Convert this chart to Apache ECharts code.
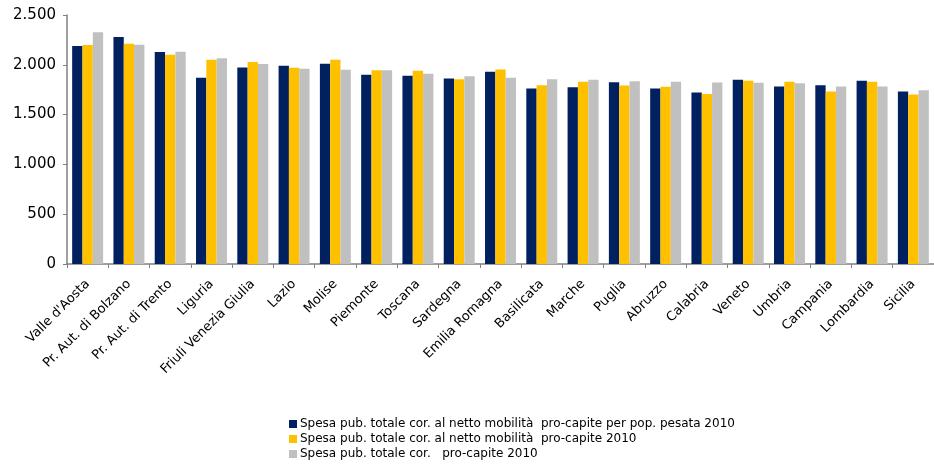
<!DOCTYPE html>
<html><head><meta charset="utf-8">
<script src="https://cdn.jsdelivr.net/npm/echarts@6/dist/echarts.min.js"></script>
<style>html,body{margin:0;padding:0;background:#fff}#c{width:934px;height:466px}</style>
</head><body><div id="c"></div>
<script>
const categories = ["Valle d'Aosta","Pr. Aut. di Bolzano","Pr. Aut. di Trento","Liguria","Friuli Venezia Giulia","Lazio","Molise","Piemonte","Toscana","Sardegna","Emilia Romagna","Basilicata","Marche","Puglia","Abruzzo","Calabria","Veneto","Umbria","Campania","Lombardia","Sicilia"];
const seriesNames = [
  "Spesa pub. totale cor. al netto mobilità  pro-capite per pop. pesata 2010",
  "Spesa pub. totale cor. al netto mobilità  pro-capite 2010",
  "Spesa pub. totale cor.   pro-capite 2010"
];
const pesata = [2188,2279,2128,1869,1973,1990,2010,1900,1889,1863,1930,1762,1775,1826,1762,1722,1849,1782,1795,1839,1732];
const nettoMob = [2198,2212,2101,2051,2027,1970,2051,1946,1940,1856,1953,1795,1829,1792,1779,1708,1839,1829,1732,1829,1701];
const totale = [2326,2201,2131,2067,2007,1960,1950,1946,1910,1886,1869,1856,1849,1836,1829,1822,1819,1816,1782,1782,1745];
const yTicks = [0,500,1000,1500,2000,2500];
const colors = ["#002060","#FFC000","#C0C0C0"];

const chart = echarts.init(document.getElementById('c'), null, {renderer:'canvas'});
const font = 'DejaVu Sans';
const mk = (name, data, color) => ({
  name, type:'bar', data, barGap:'0%', barCategoryGap:'25%',
  itemStyle:{color},
  animation:false
});
chart.setOption({
  animation:false,
  color: colors,
  grid:{left:67, right:0, top:15, bottom:202, containLabel:false},
  xAxis:{
    type:'category', data:categories,
    axisLine:{lineStyle:{color:'#808080', width:1.5}},
    axisTick:{show:true, interval:0, length:4, lineStyle:{color:'#808080'}},
    axisLabel:{interval:0, rotate:45, fontFamily:font, fontSize:13, color:'#000', margin:18}
  },
  yAxis:{
    type:'value', min:yTicks[0], max:yTicks[yTicks.length-1], interval:500,
    axisLine:{show:true, lineStyle:{color:'#808080', width:1.5}},
    axisTick:{show:true, length:4, lineStyle:{color:'#808080'}},
    splitLine:{show:false},
    axisLabel:{fontFamily:font, fontSize:15, color:'#000', margin:11,
      formatter: v => v.toString().replace(/\B(?=(\d{3})+(?!\d))/g, '.')}
  },
  legend:{
    orient:'vertical', left:289, top:417, height:49, padding:0, itemWidth:8, itemHeight:8, itemGap:1,
    icon:'rect',
    textStyle:{fontFamily:font, fontSize:12, lineHeight:14, color:'#000', padding:[0,0,0,-2]},
    data: seriesNames
  },
  series:[mk(seriesNames[0], pesata, colors[0]), mk(seriesNames[1], nettoMob, colors[1]), mk(seriesNames[2], totale, colors[2])]
});
</script></body></html>
